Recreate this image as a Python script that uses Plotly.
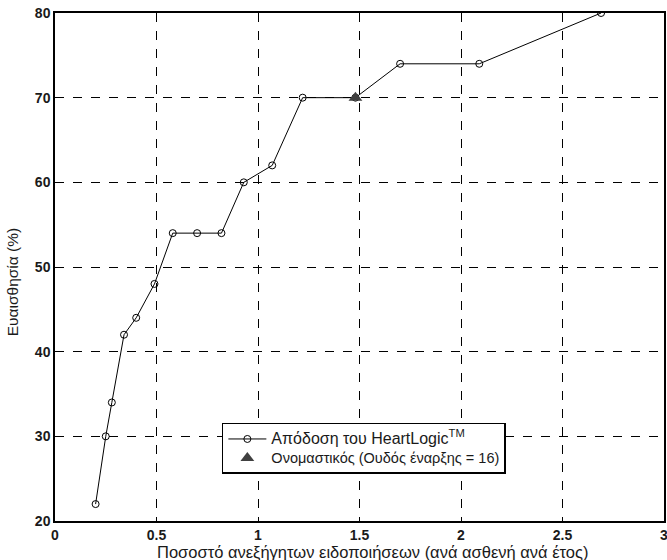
import plotly.graph_objects as go

# Data
fa_rate = [0.20, 0.25, 0.28, 0.34, 0.40, 0.49, 0.58, 0.70, 0.82, 0.93, 1.07, 1.22, 1.48, 1.70, 2.09, 2.69]
sensitivity = [22, 30, 34, 42, 44, 48, 54, 54, 54, 60, 62, 70, 70, 74, 74, 80]
nominal_x = [1.48]
nominal_y = [70]

x_ticks = [0, 0.5, 1, 1.5, 2, 2.5, 3]
x_tick_labels = ["0", "0.5", "1", "1.5", "2", "2.5", "3"]
y_ticks = [20, 30, 40, 50, 60, 70, 80]

x_title = "Ποσοστό ανεξήγητων ειδοποιήσεων (ανά ασθενή ανά έτος)"
y_title = "Ευαισθησία (%)"

font_family = "Liberation Sans, Arial, sans-serif"
ink = "#1a1a1a"

fig = go.Figure()
fig.add_trace(go.Scatter(
    x=fa_rate, y=sensitivity, mode="lines+markers",
    name="<span style='font-size:16px'>Απόδοση του HeartLogic<sup>TM</sup></span>",
    line=dict(color="black", width=1),
    marker=dict(symbol="circle-open", size=7, color="black", line=dict(width=1)),
))
fig.add_trace(go.Scatter(
    x=nominal_x, y=nominal_y, mode="markers",
    name="<span style='font-size:14.5px'>Ονομαστικός (Ουδός έναρξης = 16)</span>",
    marker=dict(symbol="triangle-up", size=12, color="#404040", line=dict(width=0)),
))

tick_font = dict(family=font_family, size=14, color=ink, weight="bold")

axis_common = dict(
    showline=True, linecolor="black", linewidth=1.5, mirror=True,
    showgrid=True, gridcolor="black", griddash="dash", gridwidth=1,
    zeroline=False, ticks="", tickfont=tick_font, ticklabeloverflow="allow",
)

fig.update_xaxes(range=[0, 3], tickvals=x_ticks, ticktext=x_tick_labels,
                 ticklabelstandoff=0, **axis_common)
fig.update_yaxes(range=[20, 80], tickvals=y_ticks,
                 ticklabelstandoff=0, **axis_common)

fig.add_annotation(
    text=x_title, xref="paper", yref="paper", x=0.522, y=-0.062,
    xanchor="center", yanchor="middle", showarrow=False,
    font=dict(family=font_family, size=16.5, color=ink),
)
fig.add_annotation(
    text=y_title, xref="paper", yref="paper", x=-0.0706, y=0.470,
    xanchor="center", yanchor="middle", showarrow=False, textangle=-90,
    font=dict(family=font_family, size=15.5, color=ink),
)

fig.update_layout(
    width=667, height=560,
    margin=dict(l=55, r=3, t=13, b=39, autoexpand=False),
    plot_bgcolor="white", paper_bgcolor="white",
    font=dict(family=font_family, size=13, color=ink),
    legend=dict(
        x=0.274, y=0.193, xanchor="left", yanchor="top",
        bgcolor="white", bordercolor="black", borderwidth=1.5,
        font=dict(family=font_family, size=12, color=ink),
        tracegroupgap=0, itemwidth=38,
    ),
    showlegend=True,
)

fig.write_html(
    "out.html",
    config={"displayModeBar": False},
    post_script="document.body.style.margin='0';document.body.style.padding='0';",
)
